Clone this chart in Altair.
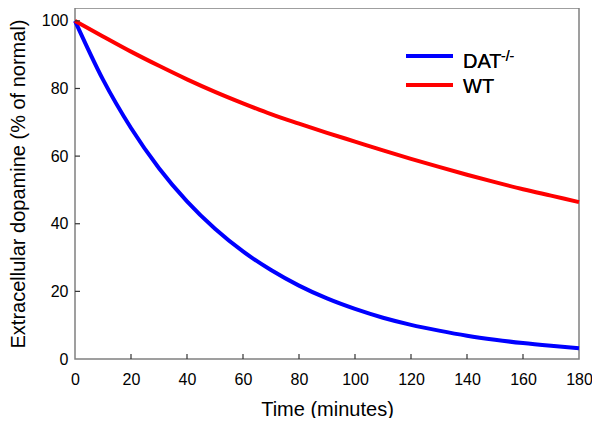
import altair as alt
import pandas as pd

# ---- data ----
time_min = [0, 10, 20, 30, 40, 50, 60, 70, 80, 90, 100, 110, 120, 130, 140, 150, 160, 170, 180]
dat_ko = [100, 82.6, 68.3, 56.4, 46.6, 38.5, 31.8, 26.3, 21.7, 17.9, 14.8, 12.2, 10.1, 8.4, 6.9, 5.7, 4.7, 3.9, 3.2]
wild_type = [100, 95.4, 90.9, 86.7, 82.7, 79.0, 75.6, 72.4, 69.6, 66.9, 64.3, 61.7, 59.2, 56.8, 54.5, 52.3, 50.2, 48.3, 46.4]
series_names = ["DAT-/-", "WT"]
series_colors = ["#0000ff", "#ff0000"]
legend_main = ["DAT", "WT"]
legend_sup = "-/-"
x_tick_values = [0, 20, 40, 60, 80, 100, 120, 140, 160, 180]
y_tick_values = [0, 20, 40, 60, 80, 100]
x_inner_ticks = [20, 40, 60, 80, 100, 120, 140, 160]
y_inner_ticks = [20, 40, 60, 80, 100]

rows = []
for t, a, b in zip(time_min, dat_ko, wild_type):
    rows.append({"time": t, "value": a, "series": series_names[0]})
    rows.append({"time": t, "value": b, "series": series_names[1]})
df = pd.DataFrame(rows)

W, H = 504, 351
FONT = "Liberation Sans"
x_scale = alt.Scale(domain=[0, 180], nice=False, zero=False)
y_scale = alt.Scale(domain=[0, 103.8], nice=False)

lines = alt.Chart(df).mark_line(strokeWidth=4, interpolate="monotone").encode(
    x=alt.X("time:Q", scale=x_scale,
            axis=alt.Axis(values=x_tick_values, title="Time (minutes)", format="d",
                          labelPadding=12, titlePadding=12, labelFlush=False, labelOverlap=False)),
    y=alt.Y("value:Q", scale=y_scale,
            axis=alt.Axis(values=y_tick_values, title="Extracellular dopamine (% of normal)", format="d",
                          labelPadding=7, titlePadding=13, labelOverlap=False)),
    color=alt.Color("series:N", scale=alt.Scale(domain=series_names, range=series_colors), legend=None),
)

xt = alt.Chart(pd.DataFrame({"t": x_inner_ticks})).mark_rule(color="#333333", strokeWidth=1.2).encode(
    x=alt.X("t:Q", scale=x_scale), y=alt.value(H), y2=alt.value(H - 5))
yt = alt.Chart(pd.DataFrame({"t": y_inner_ticks})).mark_rule(color="#333333", strokeWidth=1.2).encode(
    y=alt.Y("t:Q", scale=y_scale), x=alt.value(0), x2=alt.value(5))

leg_df = pd.DataFrame({"label": legend_main, "color": series_colors})
leg_blue = alt.Chart(leg_df).mark_rule(color=series_colors[0], strokeWidth=4).encode(
    x=alt.value(331), x2=alt.value(378), y=alt.value(48))
leg_red = alt.Chart(leg_df).mark_rule(color=series_colors[1], strokeWidth=4).encode(
    x=alt.value(331), x2=alt.value(378), y=alt.value(77))
txt_dat = alt.Chart(leg_df).mark_text(text=legend_main[0], font=FONT, fontSize=20, fontWeight="normal",
                                      align="left", baseline="alphabetic", color="black").encode(
    x=alt.value(388), y=alt.value(60))
txt_sup = alt.Chart(leg_df).mark_text(text=legend_sup, font=FONT, fontSize=14, fontWeight="normal",
                                      align="left", baseline="alphabetic", color="black").encode(
    x=alt.value(426), y=alt.value(53))
txt_wt = alt.Chart(leg_df).mark_text(text=legend_main[1], font=FONT, fontSize=20, fontWeight="normal",
                                     align="left", baseline="alphabetic", color="black").encode(
    x=alt.value(388), y=alt.value(84.7))

chart = alt.layer(lines, xt, yt, leg_blue, leg_red, txt_dat, txt_sup, txt_wt).properties(
    width=W, height=H,
    autosize=alt.AutoSizeParams(type="none"),
    padding={"left": 67, "top": 0, "right": 13, "bottom": 59},
).configure_view(
    stroke="#808080", strokeWidth=1.5
).configure_axis(
    domain=False, ticks=False, grid=False,
    labelFont=FONT, titleFont=FONT, labelFontSize=16, titleFontSize=20,
    labelColor="black", titleColor="black", titleFontWeight="normal",
)

chart.save("out.html", embed_options={"renderer": "svg", "actions": False})
